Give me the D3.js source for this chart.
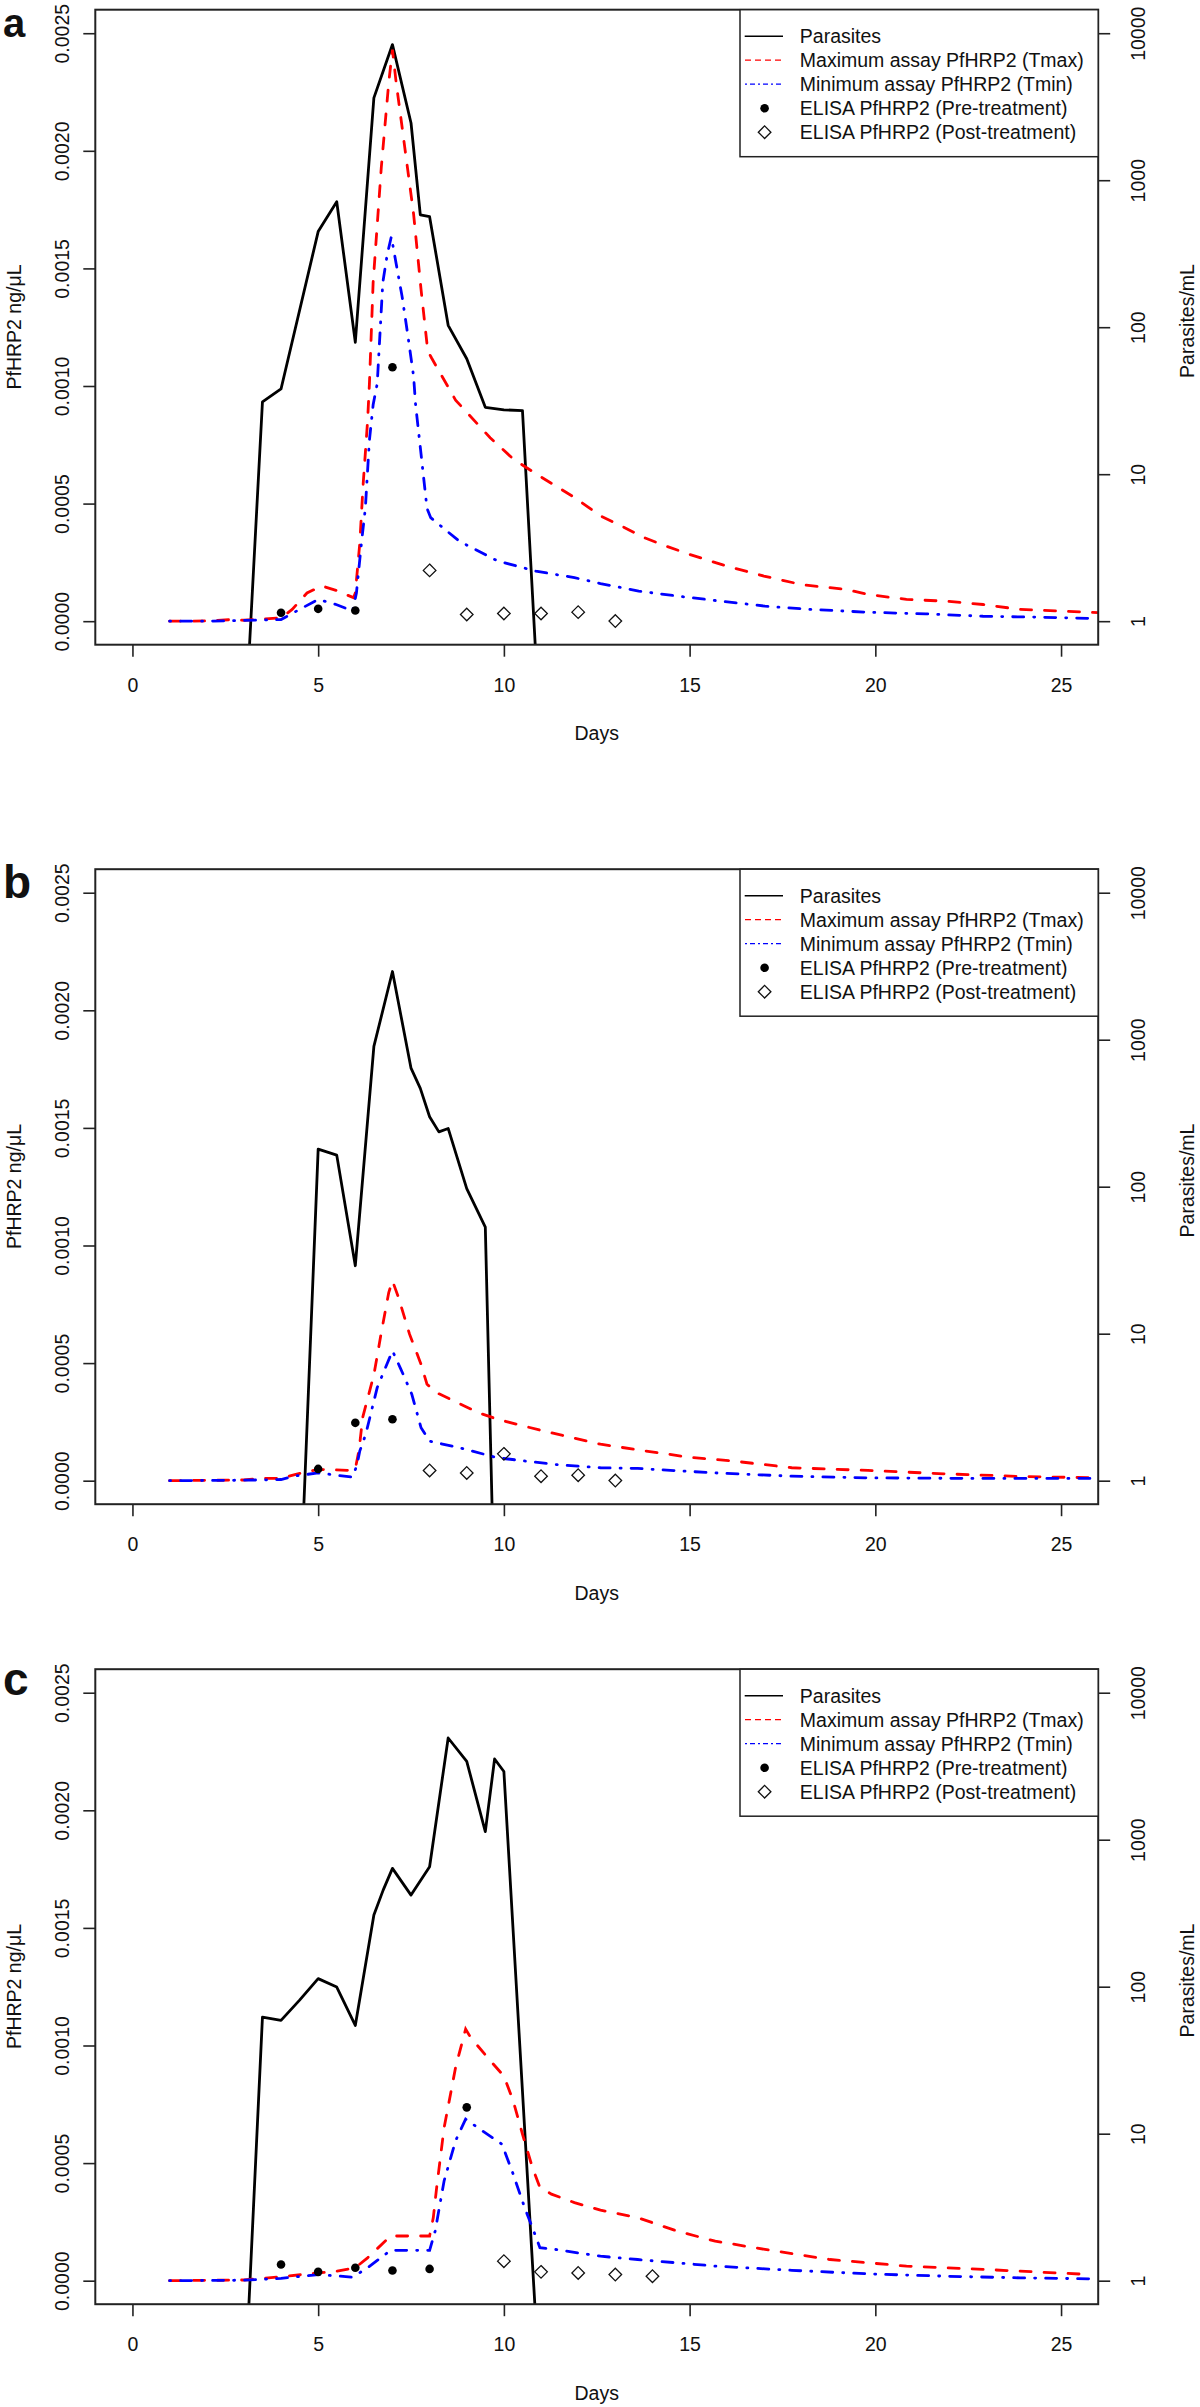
<!DOCTYPE html>
<html><head><meta charset="utf-8">
<script src="https://cdn.jsdelivr.net/npm/d3@7"></script>
<style>
body{margin:0;background:#fff}
svg{display:block}
text{font-family:"Liberation Sans",Arial,sans-serif;fill:#111}
</style>
</head><body>
<svg id="chart" width="1200" height="2407"></svg>
<script>
// ---------------- DATA ----------------
const panelLetters = ["a", "b", "c"];
const xTicks = [0, 5, 10, 15, 20, 25];
const leftTicks = [0, 0.0005, 0.0010, 0.0015, 0.0020, 0.0025];
const leftTickLabels = ["0.0000", "0.0005", "0.0010", "0.0015", "0.0020", "0.0025"];
const rightTicks = [1, 10, 100, 1000, 10000];
const xLabel = "Days";
const leftLabel = "PfHRP2 ng/\u03bcL";
const rightLabel = "Parasites/mL";
const legendLabels = ["Parasites", "Maximum assay PfHRP2 (Tmax)", "Minimum assay PfHRP2 (Tmin)",
  "ELISA PfHRP2 (Pre-treatment)", "ELISA PfHRP2 (Post-treatment)"];
// value used to draw an undetectable (zero) parasite count below the log axis
const undetectableLevel = 0.13;

// Panel a
const aParasites = [[1,0],[2,0],[3,0],[3.5,31],[4,38],[5,447],[5.5,714],[6,79],[6.5,3630],[7,8370],
  [7.5,2450],[7.75,580],[8,565],[8.5,103],[9,61],[9.5,28.5],[10,27.4],[10.5,27.1],[11,0],[12,0]];
const aTmax = [[1,0],[2,0.000001],[2.7,0.000007],[3,0.000004],[4,0.000014],[4.3,0.00005],[4.7,0.00012],
  [5.1,0.00015],[5.5,0.00013],[5.95,0.0001],[6.0,0.00012],[6.12,0.00033],[6.21,0.00058],[6.33,0.00085],
  [6.38,0.00101],[6.48,0.00144],[6.7,0.00193],[6.9,0.00229],[7.0,0.00243],[7.1,0.00229],[7.26,0.0021],
  [7.57,0.00173],[7.77,0.00141],[7.95,0.00115],[8.05,0.00112],[8.7,0.00094],[8.96,0.000895],[9.63,0.00078],
  [10.25,0.00069],[10.87,0.000626],[11.9,0.000526],[12.6,0.000448],[13.22,0.0004],[13.78,0.000355],
  [14.35,0.00032],[15,0.000284],[16,0.000234],[17,0.000192],[18,0.000156],[19.2,0.000135],[19.8,0.000114],
  [20.84,0.0000925],[21.9,0.000085],[22.9,0.000071],[23.9,0.00005],[25,0.000043],[26,0.000036]];
const aTmin = [[1,0],[2,0],[3,0.000003],[4,0.000007],[4.5,0.00005],[5,0.0000925],[5.5,0.00007],
  [5.93,0.000043],[6.03,0.00012],[6.17,0.00034],[6.27,0.00048],[6.38,0.00077],[6.48,0.00092],[6.59,0.00101],
  [6.74,0.00144],[6.86,0.00156],[6.97,0.001635],[7.1,0.00152],[7.26,0.00138],[7.41,0.00122],[7.57,0.00104],
  [7.62,0.000925],[7.77,0.00071],[7.93,0.00048],[8.03,0.00044],[8.8,0.00034],[9.83,0.000256],[10.86,0.000213],
  [11.9,0.000185],[12.6,0.00016],[13.63,0.000128],[14.66,0.000107],[15.69,0.000088],[17.03,0.000064],
  [18.27,0.00005],[19.8,0.000038],[21.36,0.000031],[22.9,0.000021],[24.45,0.000017],[25.9,0.0000115]];
const aPre = [[4,0.0000356],[5,0.0000525],[6,0.0000455],[7,0.00108]];
const aPost = [[8,0.000216],[9,0.0000284],[10,0.0000327],[11,0.0000327],[12,0.0000384],[13,0.0000005]];

// Panel b
const bParasites = [[1,0],[2,0],[3,0],[4,0],[4.5,0],[5,180],[5.5,164],[6,29],[6.5,900],[7,2910],[7.5,640],
  [7.75,467],[8,299],[8.25,236],[8.5,249],[9,97],[9.5,53],[9.75,0],[11,0]];
const bTmax = [[1,0],[3,0.000003],[3.5,0.00001],[4,0.00001],[4.37,0.000026],[5,0.000048],[5.93,0.0000435],
  [6.0,0.00005],[6.1,0.00013],[6.2,0.00027],[6.35,0.00036],[6.5,0.00045],[6.7,0.00063],[6.9,0.0008],
  [7.0,0.00085],[7.16,0.00078],[7.46,0.000623],[7.77,0.000495],[7.93,0.00041],[8.19,0.000374],[9.32,0.000289],
  [9.83,0.000261],[11.07,0.000211],[12.6,0.000155],[13.83,0.000126],[14.97,0.0001],[16.2,0.000083],
  [17.75,0.000055],[19.8,0.0000435],[21.9,0.000029],[23.9,0.000018],[26,0.000012]];
const bTmin = [[1,0],[3,0.000002],[4,0.000005],[4.37,0.00002],[5,0.000033],[5.93,0.000015],[6.05,0.00007],
  [6.12,0.000126],[6.28,0.000197],[6.59,0.000396],[7.0,0.000552],[7.21,0.00048],[7.52,0.000368],
  [7.77,0.000225],[8.0,0.000168],[8.8,0.00014],[9.83,0.0000973],[11.38,0.000069],[12.6,0.000055],
  [13.6,0.000052],[15.7,0.000033],[17.75,0.000019],[19.8,0.000012],[22.9,0.0000094],[25.9,0.0000094]];
const bPre = [[5,0.00005],[6,0.000246],[7,0.000261]];
const bPost = [[8,0.0000435],[9,0.000033],[10,0.000114],[11,0.000019],[12,0.0000234],[13,0.0000005]];

// Panel c
const cParasites = [[1,0],[2,0],[3,0],[3.5,62],[4,59],[4.5,81],[5,113.5],[5.5,99.5],[6,54.5],[6.5,307],
  [6.75,454],[7,638],[7.5,420],[8,655],[8.5,4920],[9,3410],[9.5,1135],[9.75,3540],[10,2910],[11,0],[12,0]];
const cTmax = [[1,0],[3,0.000003],[3.9,0.000015],[5,0.000033],[5.5,0.00004],[6.0,0.000055],[6.33,0.000097],
  [6.95,0.00019],[8.0,0.00019],[8.1,0.000268],[8.19,0.000396],[8.39,0.00065],[8.7,0.000907],[8.97,0.00107],
  [9.1,0.001035],[9.63,0.000936],[10,0.00087],[10.25,0.000765],[10.5,0.000623],[10.77,0.00048],
  [10.97,0.000396],[11.28,0.000368],[11.9,0.000332],[12.6,0.0003],[13.6,0.000268],[14.66,0.000211],
  [15.69,0.000168],[17.03,0.000133],[18.78,0.00009],[20.84,0.000062],[22.9,0.000048],[25.8,0.000026]];
const cTmin = [[1,0],[3,0.000002],[4,0.00001],[5,0.000026],[5.93,0.000015],[6.33,0.000055],[6.95,0.000129],
  [8.0,0.000129],[8.15,0.000211],[8.39,0.000424],[8.7,0.000595],[8.97,0.000687],[9.42,0.000637],
  [9.95,0.00058],[10.25,0.000453],[10.56,0.00031],[10.77,0.000225],[10.97,0.00014],[11.38,0.000133],
  [12.6,0.000104],[13.6,0.00009],[15.7,0.000062],[17.75,0.000044],[19.8,0.000029],[21.9,0.000019],
  [23.9,0.000012],[25.9,0.0000077]];
const cPre = [[4,0.000069],[5,0.0000375],[6,0.000055],[7,0.0000435],[8,0.00005],[9,0.000737]];
const cPost = [[10,0.000083],[11,0.0000375],[12,0.000033],[13,0.000026],[14,0.000019]];

const panels = [
  {letter: panelLetters[0], parasites: aParasites, tmax: aTmax, tmin: aTmin, pre: aPre, post: aPost},
  {letter: panelLetters[1], parasites: bParasites, tmax: bTmax, tmin: bTmin, pre: bPre, post: bPost},
  {letter: panelLetters[2], parasites: cParasites, tmax: cTmax, tmin: cTmin, pre: cPre, post: cPost}
];

// ---------------- LAYOUT ----------------
const FS = 19.5;
const panelOffsets = [0, 859.5, 1659.5];
const letterBaselines = [36.5, 38.5, 35.5];
const letterSizes = [40, 46, 46];
const box = {l: 95.3, r: 1098.2, t: 9.7, b: 644.7};
const svg = d3.select("#chart");

const x = d3.scaleLinear().domain([-1, 26]).range([box.l, box.r]);
const y = d3.scaleLinear().domain([-0.0001, 0.0026]).range([box.b, box.t]);
const yR = d3.scaleLog().domain([Math.pow(10, -0.16), Math.pow(10, 4.16)]).range([box.b, box.t]);

const lineL = d3.line().x(d => x(d[0])).y(d => y(d[1]));
const lineP = d3.line().x(d => x(d[0])).y(d => yR(d[1] > 0 ? d[1] : undetectableLevel));
const diamond = s => `M0,${-s}L${s},0L0,${s}L${-s},0Z`;

panels.forEach((p, i) => {
  const off = panelOffsets[i];
  const g = svg.append("g").attr("transform", `translate(0,${off})`);
  const cid = "clip" + i;
  g.append("clipPath").attr("id", cid).append("rect")
    .attr("x", box.l).attr("y", box.t).attr("width", box.r - box.l).attr("height", box.b - box.t);
  const plot = g.append("g").attr("clip-path", `url(#${cid})`);

  plot.append("path").datum(p.parasites).attr("d", lineP)
    .attr("fill", "none").attr("stroke", "#000").attr("stroke-width", 2.8).attr("stroke-linejoin", "round");
  plot.append("path").datum(p.tmax).attr("d", lineL)
    .attr("fill", "none").attr("stroke", "#ff0000").attr("stroke-width", 2.8)
    .attr("stroke-dasharray", "11,13").attr("stroke-linecap", "round");
  plot.append("path").datum(p.tmin).attr("d", lineL)
    .attr("fill", "none").attr("stroke", "#0000ff").attr("stroke-width", 2.8)
    .attr("stroke-dasharray", "1,10,11,10").attr("stroke-linecap", "round");

  plot.selectAll("circle.pre").data(p.pre).join("circle").attr("class", "pre")
    .attr("cx", d => x(d[0])).attr("cy", d => y(d[1])).attr("r", 4.3).attr("fill", "#000");
  plot.selectAll("path.post").data(p.post).join("path").attr("class", "post")
    .attr("transform", d => `translate(${x(d[0])},${y(d[1])})`).attr("d", diamond(6.3))
    .attr("fill", "none").attr("stroke", "#111").attr("stroke-width", 1.3);

  // axes
  const left = g.append("g").attr("transform", `translate(${box.l},0)`)
    .call(d3.axisLeft(y).tickValues(leftTicks).tickSize(12).tickFormat((d, k) => leftTickLabels[k]));
  const bottom = g.append("g").attr("transform", `translate(0,${box.b})`)
    .call(d3.axisBottom(x).tickValues(xTicks).tickSize(12).tickFormat(d3.format("d")));
  const right = g.append("g").attr("transform", `translate(${box.r},0)`)
    .call(d3.axisRight(yR).tickValues(rightTicks).tickSize(12).tickFormat(d3.format("d")));
  [left, bottom, right].forEach(a => {
    a.select(".domain").remove();
    a.selectAll(".tick line").attr("stroke", "#222").attr("stroke-width", 1.6);
    a.selectAll("text").attr("fill", "#111").style("font-size", FS + "px")
      .style("font-family", '"Liberation Sans", Arial, sans-serif');
  });
  left.selectAll("text").attr("transform", "rotate(-90)").attr("x", 0).attr("y", -26.3)
    .attr("dy", 0).attr("text-anchor", "middle");
  right.selectAll("text").attr("transform", "rotate(-90)").attr("x", 0).attr("y", 46.8)
    .attr("dy", 0).attr("text-anchor", "middle");
  bottom.selectAll("text").attr("y", 47.3).attr("dy", 0);

  // box
  g.append("rect").attr("x", box.l).attr("y", box.t).attr("width", box.r - box.l).attr("height", box.b - box.t)
    .attr("fill", "none").attr("stroke", "#222").attr("stroke-width", 2);

  // axis titles
  g.append("text").attr("x", (box.l + box.r) / 2).attr("y", 740).attr("text-anchor", "middle")
    .style("font-size", FS + "px").text(xLabel);
  g.append("text").attr("transform", `translate(21,327) rotate(-90)`).attr("text-anchor", "middle")
    .style("font-size", FS + "px").text(leftLabel);
  g.append("text").attr("transform", `translate(1194,321) rotate(-90)`).attr("text-anchor", "middle")
    .style("font-size", FS + "px").text(rightLabel);

  // panel letter
  g.append("text").attr("x", 3).attr("y", letterBaselines[i]).style("font-size", letterSizes[i] + "px")
    .style("font-weight", "bold").attr("fill", "#000").text(p.letter);

  // legend
  const lg = g.append("g");
  const lx = 740;
  lg.append("rect").attr("x", lx).attr("y", box.t).attr("width", box.r - lx).attr("height", 147)
    .attr("fill", "#fff").attr("stroke", "#222").attr("stroke-width", 1.5);
  legendLabels.forEach((lab, k) => {
    const cy = box.t + 26.5 + 24 * k;
    lg.append("text").attr("x", 799.8).attr("y", cy + 7).style("font-size", FS + "px").text(lab);
    if (k === 0) {
      lg.append("line").attr("x1", 744.7).attr("x2", 783).attr("y1", cy).attr("y2", cy)
        .attr("stroke", "#000").attr("stroke-width", 1.4);
    } else if (k === 1) {
      lg.append("line").attr("x1", 745).attr("x2", 783).attr("y1", cy).attr("y2", cy)
        .attr("stroke", "#ff0000").attr("stroke-width", 1.3).attr("stroke-dasharray", "6,4");
    } else if (k === 2) {
      lg.append("line").attr("x1", 745).attr("x2", 783).attr("y1", cy).attr("y2", cy)
        .attr("stroke", "#0000ff").attr("stroke-width", 1.3).attr("stroke-dasharray", "2,3,5,3");
    } else if (k === 3) {
      lg.append("circle").attr("cx", 764.6).attr("cy", cy).attr("r", 4.3).attr("fill", "#000");
    } else {
      lg.append("path").attr("transform", `translate(764.6,${cy})`).attr("d", diamond(6.3))
        .attr("fill", "none").attr("stroke", "#111").attr("stroke-width", 1.3);
    }
  });
});
</script>
</body></html>
